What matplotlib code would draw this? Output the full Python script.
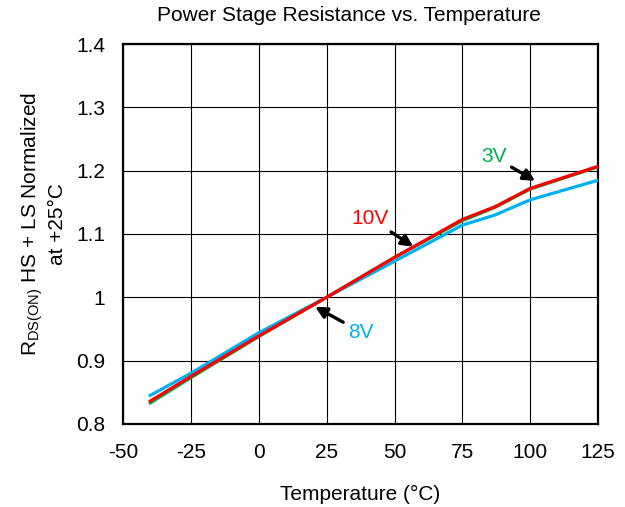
import matplotlib
matplotlib.use("Agg")
import matplotlib.pyplot as plt

plt.rcParams["font.family"] = ["Liberation Sans", "DejaVu Sans"]
plt.rcParams["mathtext.fontset"] = "custom"
plt.rcParams["mathtext.rm"] = "Liberation Sans"
plt.rcParams["axes.unicode_minus"] = False

temps = [-40, -25, 0, 25, 50, 75, 87, 100, 125]
r_3v = [0.833, 0.873, 0.938, 1.0, 1.063, 1.121, 1.142, 1.171, 1.206]
r_8v = [0.845, 0.880, 0.944, 1.0, 1.057, 1.114, 1.130, 1.154, 1.185]
r_10v = [0.836, 0.875, 0.939, 1.0, 1.063, 1.123, 1.143, 1.172, 1.207]

xticks = [-50, -25, 0, 25, 50, 75, 100, 125]
yticks = [0.8, 0.9, 1.0, 1.1, 1.2, 1.3, 1.4]
ylabels = ["0.8", "0.9", "1", "1.1", "1.2", "1.3", "1.4"]

fig = plt.figure(figsize=(6.25, 5.07), dpi=100)
ax = fig.add_axes([0.197, 0.164, 0.76, 0.749])

ax.plot(temps, r_3v, color="#00B050", lw=2.3, zorder=3)
ax.plot(temps, r_8v, color="#00B0F0", lw=2.3, zorder=4)
ax.plot(temps, r_10v, color="#FF0000", lw=2.3, zorder=5)

arw = dict(arrowstyle="-|>", color="black", lw=2.4, mutation_scale=17, shrinkA=2, shrinkB=0)
ax.annotate("3V", xy=(101.8, 1.184), xytext=(86.5, 1.222), color="#00B050",
            fontsize=15, ha="center", va="center", arrowprops=arw)
ax.annotate("10V", xy=(56.9, 1.080), xytext=(41, 1.125), color="#FF0000",
            fontsize=15, ha="center", va="center", arrowprops=arw)
ax.annotate("8V", xy=(20.7, 0.985), xytext=(37.7, 0.945), color="#00B0F0",
            fontsize=15, ha="center", va="center", arrowprops=arw)

ax.set_xlim(-50, 125)
ax.set_ylim(0.8, 1.4)
ax.set_xticks(xticks)
ax.set_yticks(yticks)
ax.set_yticklabels(ylabels)
ax.tick_params(labelsize=15, length=0)
ax.tick_params(axis="x", pad=14)
ax.tick_params(axis="y", pad=13)
ax.grid(True, color="black", lw=0.8)
ax.set_axisbelow(True)
for s in ax.spines.values():
    s.set_linewidth(1.6)
    s.set_color("black")

ax.set_xlabel("Temperature (°C)", fontsize=15, labelpad=16)
ax.set_ylabel("R$_{\\mathrm{DS(ON)}}$ HS + LS Normalized\nat +25°C", fontsize=15)
ax.yaxis.set_label_coords(-0.118, 0.526)
fig.text(0.558, 0.969, "Power Stage Resistance vs. Temperature", fontsize=15,
         ha="center", va="center")

fig.savefig("out.png", dpi=100)
